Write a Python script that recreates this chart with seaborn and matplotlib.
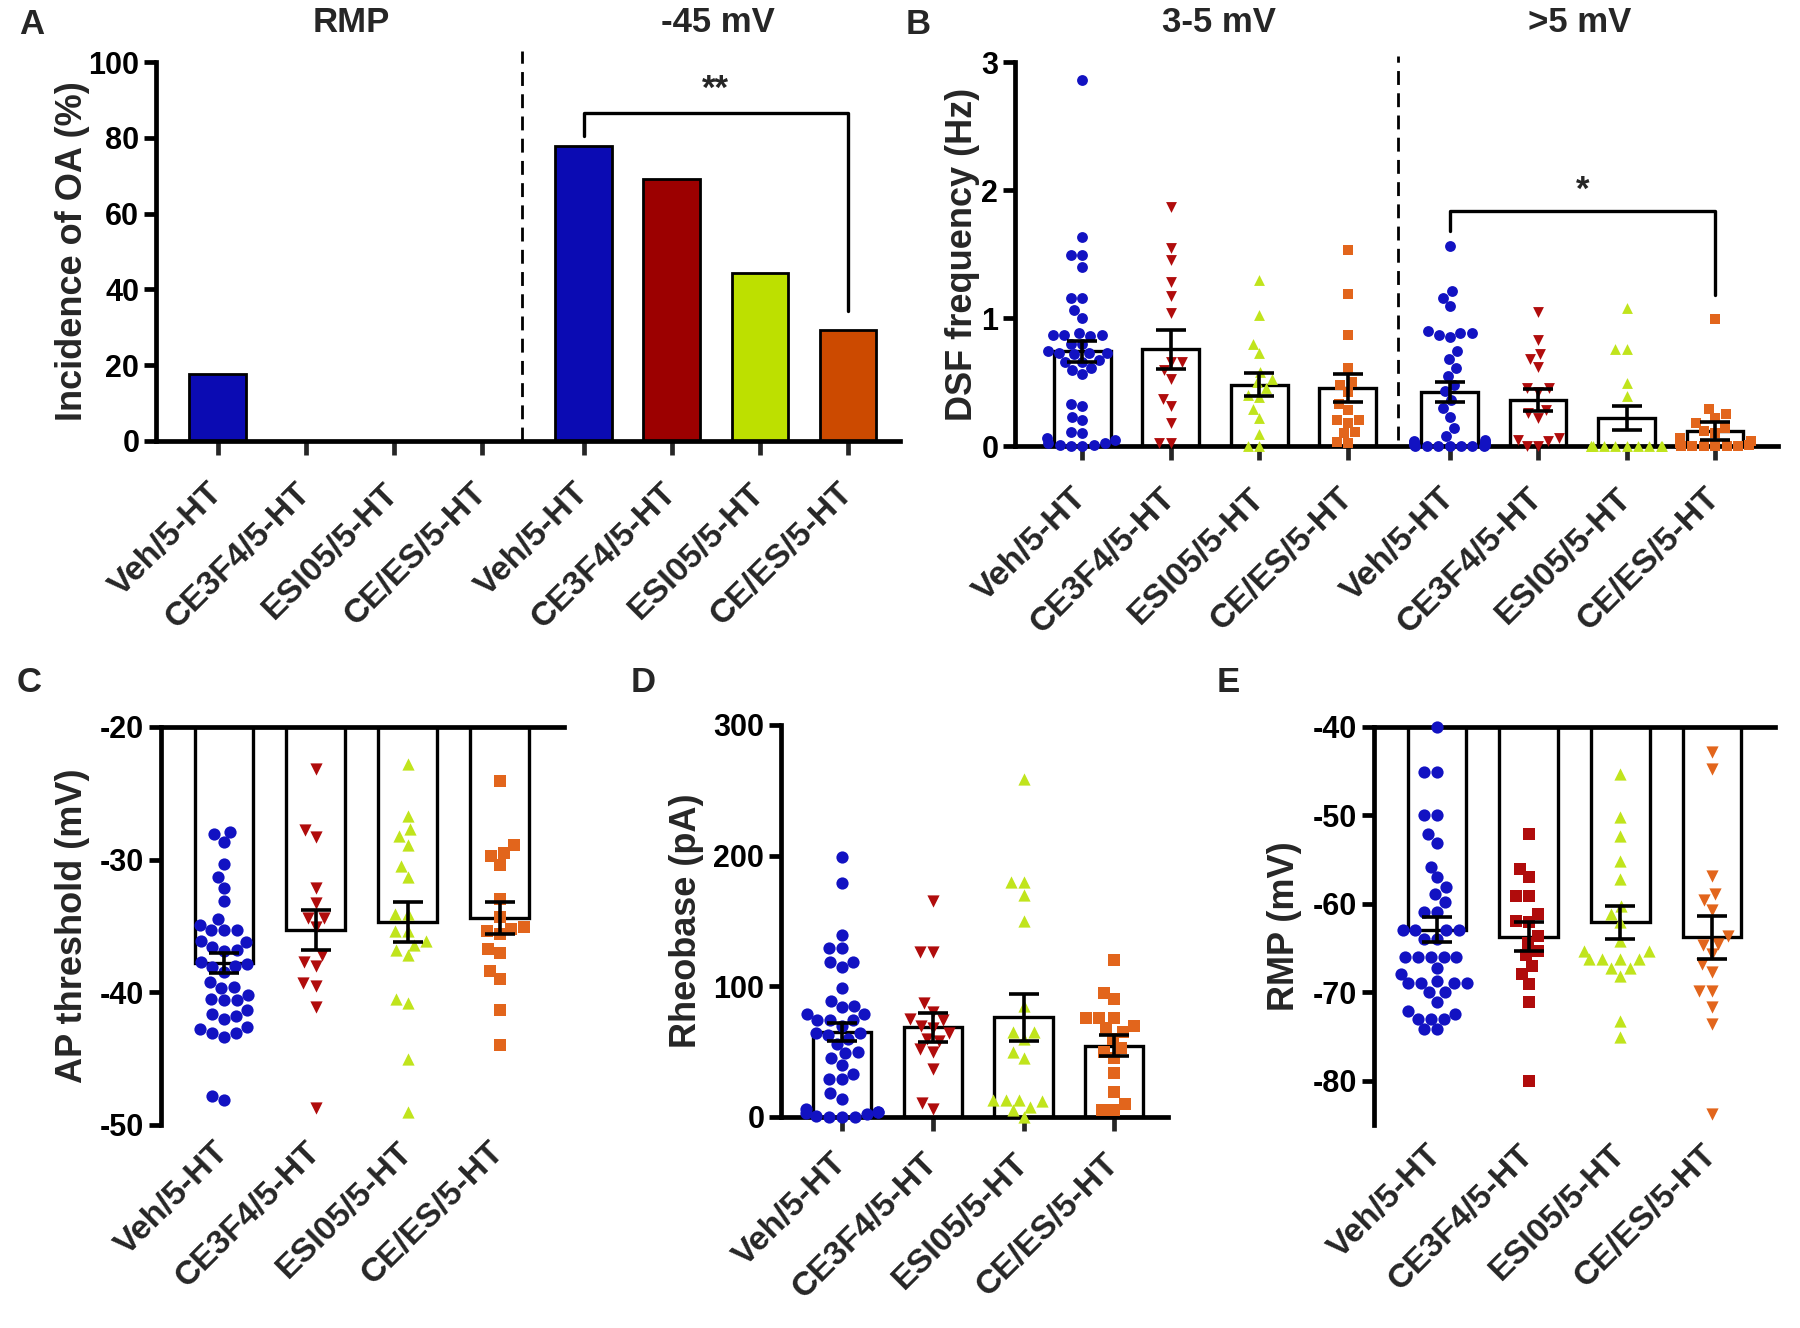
import matplotlib
matplotlib.use("Agg")
import numpy as np
import pandas as pd
import matplotlib.pyplot as plt
import seaborn as sns

sns.set_style("ticks")
plt.rcParams["font.family"] = ["Liberation Sans", "DejaVu Sans"]
plt.rcParams["font.weight"] = "bold"
plt.rcParams["axes.labelweight"] = "bold"
plt.rcParams["axes.unicode_minus"] = False

# ---------------- data ----------------
groups = ["Veh/5-HT", "CE3F4/5-HT", "ESI05/5-HT", "CE/ES/5-HT"]
bar_colors = ["#0b0bb3", "#9c0000", "#bde000", "#cc4a00"]
dot_colors = ["#1212c2", "#b00c0c", "#c0e41c", "#e2651c"]

# Panel A: incidence of OA (%)
a_rmp = [17.6, 0, 0, 0]
a_m45 = [77.8, 69.2, 44.4, 29.4]

# Panel B: DSF frequency (Hz)
b_means = [0.74, 0.755, 0.48, 0.45, 0.42, 0.36, 0.22, 0.12]
b_sems = [0.08, 0.15, 0.09, 0.11, 0.08, 0.085, 0.095, 0.07]
b35_veh = [2.86, 1.63, 1.49, 1.49, 1.40, 1.16, 1.16, 1.06, 1.00, 0.87, 0.87, 0.87, 0.88,
           0.86, 0.80, 0.80, 0.73, 0.73, 0.74, 0.72, 0.73, 0.67, 0.66, 0.66, 0.61, 0.59,
           0.56, 0.33, 0.31, 0.23, 0.20, 0.10, 0.11, 0.06, 0.05, 0.02, 0.01, 0.0, 0.02,
           0.0, 0.01]
b35_ce3f4 = [1.87, 1.55, 1.45, 1.28, 1.17, 1.04, 0.66, 0.66, 0.59, 0.52, 0.37, 0.31, 0.18,
             0.02, 0.02]
b35_esi = [1.30, 1.02, 0.80, 0.73, 0.58, 0.52, 0.50, 0.45, 0.40, 0.38, 0.29, 0.22, 0.09,
           0.0, 0.0]
b35_cees = [1.53, 1.19, 0.87, 0.61, 0.50, 0.48, 0.42, 0.33, 0.28, 0.20, 0.20, 0.18, 0.11,
            0.10, 0.03, 0.02]
b5_veh = [1.56, 1.21, 1.16, 1.09, 0.90, 0.88, 0.88, 0.87, 0.85, 0.74, 0.68, 0.61, 0.55,
          0.48, 0.43, 0.36, 0.30, 0.23, 0.14, 0.08, 0.05, 0.04, 0.03, 0.03, 0.02, 0.02,
          0.01, 0.01, 0.0, 0.0, 0.0, 0.0, 0.0, 0.0, 0.0]
b5_ce3f4 = [1.05, 0.83, 0.72, 0.68, 0.62, 0.45, 0.45, 0.42, 0.28, 0.26, 0.22, 0.06, 0.05,
            0.04, 0.0, 0.0]
b5_esi = [1.08, 0.76, 0.76, 0.49, 0.39, 0.0, 0.0, 0.0, 0.0, 0.0, 0.0, 0.0, 0.0, 0.0, 0.0]
b5_cees = [0.99, 0.29, 0.25, 0.22, 0.18, 0.14, 0.12, 0.10, 0.06, 0.04, 0.02, 0.01, 0.0,
           0.0, 0.0, 0.0, 0.0, 0.0]

# Panel C: AP threshold (mV)
c_means = [-37.8, -35.3, -34.7, -34.4]
c_sems = [0.75, 1.5, 1.5, 1.2]
c_veh = [-27.9, -28.1, -28.7, -30.3, -31.3, -32.1, -33.1, -34.5, -35.3, -35.3, -35.3, -34.9,
         -36.1, -36.2, -36.8, -36.6, -36.9, -37.9, -37.7, -38.0, -38.1, -38.5, -39.2, -39.6,
         -39.7, -40.2, -40.5, -40.6, -40.6, -41.3, -41.6, -41.8, -42.0, -43.1, -42.6, -43.4,
         -42.8, -43.1, -48.1, -47.8]
c_ce3f4 = [-23.2, -28.3, -27.8, -32.1, -33.3, -34.4, -34.4, -35.1, -37.2, -38.0, -37.7,
           -39.5, -39.3, -41.1, -48.7]
c_esi = [-22.8, -26.7, -27.7, -28.2, -28.9, -30.5, -31.3, -34.1, -34.1, -35.4, -35.4, -36.4,
         -36.1, -36.8, -37.2, -40.8, -40.5, -45.0, -49.0]
c_cees = [-24.1, -29.5, -30.4, -29.7, -28.9, -33.0, -34.3, -35.6, -35.2, -35.1, -35.4, -37.0,
          -36.7, -38.4, -39.0, -41.3, -44.0]

# Panel D: Rheobase (pA)
d_means = [65.0, 68.5, 76.4, 54.7]
d_sems = [7.0, 11.0, 18.0, 8.0]
d_veh = [199, 179, 139, 129, 129, 119, 115, 119, 99, 89, 84, 85, 79, 79, 74, 74, 74, 70, 64,
         63, 64, 60, 56, 50, 49, 45, 40, 33, 29, 29, 18, 14, 6, 4, 4, 3, 2, 1, 0, 0, 0]
d_ce3f4 = [165, 126, 126, 87, 80, 75, 74, 70, 68, 64, 60, 58, 52, 50, 37, 11, 6]
d_esi = [259, 180, 180, 170, 150, 85, 65, 65, 60, 50, 45, 13, 13, 13, 12, 8, 5, 0]
d_cees = [120, 95, 90, 76, 76, 76, 70, 68, 65, 60, 53, 50, 45, 34, 19, 10, 5, 5]

# Panel E: RMP (mV)
e_means = [-62.9, -63.7, -62.1, -63.8]
e_sems = [1.4, 1.65, 1.85, 2.4]
e_veh = [-40, -45.1, -45.1, -50, -50, -52.1, -53.1, -55.8, -57.0, -58.1, -58.9, -59.8, -60.9,
         -60.9, -63, -63, -63, -63, -64, -64, -66, -66, -66, -66, -66, -67.2, -67.9, -69,
         -69, -69, -69, -68.7, -70, -70, -71.1, -72.5, -72.1, -73, -73, -73, -74.2, -74.2]
e_ce3f4 = [-52.1, -56.0, -57.0, -59.1, -59.1, -61.1, -62.1, -61.9, -63.6, -64.4, -65.8,
           -65.3, -67.9, -67.0, -69.1, -71.1, -80.0]
e_esi = [-45.3, -50.2, -52.3, -55.1, -57.2, -60.2, -61.1, -62.1, -64.2, -65.3, -65.3, -66.2,
         -66.2, -66.2, -66.2, -67.2, -67.2, -68.1, -73.2, -75.1]
e_cees = [-42.8, -44.7, -56.8, -58.9, -59.6, -60.7, -63.6, -64.5, -64.7, -65.7, -66.8, -67.7,
          -69.8, -69.8, -71.7, -73.6, -83.8]

# ---------------- layout ----------------
W, H = 1800, 1328
fig = plt.figure(figsize=(W / 100, H / 100), dpi=100)


def px_axes(l, r, t, b):
    return fig.add_axes([l / W, (H - b) / H, (r - l) / W, (b - t) / H])


SPW = 3.4
TICK_FS = 22
XT_FS = 24.5
LAB_FS = 26


def style_axes(ax, top_axis=False):
    for s in ax.spines.values():
        s.set_linewidth(SPW)
        s.set_color("black")
    ax.spines["right"].set_visible(False)
    if top_axis:
        ax.spines["bottom"].set_visible(False)
    else:
        ax.spines["top"].set_visible(False)
    ax.tick_params(axis="y", length=9, width=SPW, labelsize=TICK_FS, pad=3, colors="black")


def set_xlabels(ax, pos, labels, pad, ticklen):
    ax.set_xticks(pos)
    ax.set_xticklabels(labels, rotation=45, ha="right", va="center",
                       rotation_mode="anchor", fontsize=XT_FS, fontweight="bold")
    ax.tick_params(axis="x", length=ticklen, width=SPW, pad=pad, bottom=True, top=False,
                   labelbottom=True, labeltop=False)


def dots_bars_err(ax, pos, series, means, sems, markers, colors, size=8):
    sns.barplot(x=pos, y=means, native_scale=True, orient="x", color="white",
                edgecolor="black", linewidth=2.4, width=0.64, errorbar=None,
                saturation=1, ax=ax, zorder=1)
    for p, vals, mk, col in zip(pos, series, markers, colors):
        sns.swarmplot(x=[p] * len(vals), y=vals, native_scale=True, orient="x",
                      color=col, marker=mk, size=size, linewidth=0, ax=ax, zorder=3,
                      clip_on=False, warn_thresh=1)
    ax.errorbar(pos, means, yerr=sems, fmt="none", ecolor="black", elinewidth=2.6,
                capsize=11, capthick=2.6, zorder=5)


def ylabel(ax, text, x_px, ax_left, ax_w):
    ax.set_ylabel(text, fontsize=LAB_FS, fontweight="bold", va="center")
    ax.yaxis.set_label_coords((x_px - ax_left) / ax_w, 0.5)


pos8 = [0, 1, 2, 3, 4.15, 5.15, 6.15, 7.15]
pos4 = [0, 1, 2, 3]

# ---------------- Panel A ----------------
axA = px_axes(156, 900, 62, 441)
dfA = pd.DataFrame({"pos": pos8, "val": a_rmp + a_m45, "grp": groups * 2})
sns.barplot(data=dfA, x="pos", y="val", hue="grp", palette=dict(zip(groups, bar_colors)),
            native_scale=True, dodge=False, width=0.64, edgecolor="black", linewidth=2,
            saturation=1, legend=False, errorbar=None, ax=axA)
axA.set_xlim(-0.70, 7.74)
axA.set_ylim(0, 100)
axA.set_yticks([0, 20, 40, 60, 80, 100])
style_axes(axA)
set_xlabels(axA, pos8, groups * 2, pad=24, ticklen=10)
axA.set_xlabel("")
ylabel(axA, "Incidence of OA (%)", 73, 156, 744)
axA.plot([3.45, 3.45], [0, 103], ls=(0, (5, 3)), lw=2.0, color="black", clip_on=False)
axA.plot([4.15, 4.15, 7.15, 7.15], [80.6, 86.5, 86.5, 34.4], color="black", lw=2.4,
         clip_on=False)
axA.text(5.65, 88.5, "**", ha="center", va="bottom", fontsize=25, fontweight="bold")

# ---------------- Panel B ----------------
axB = px_axes(1015, 1778, 62, 446)
dots_bars_err(axB, pos8,
              [b35_veh, b35_ce3f4, b35_esi, b35_cees, b5_veh, b5_ce3f4, b5_esi, b5_cees],
              b_means, b_sems, ["o", "v", "^", "s"] * 2, dot_colors * 2, size=7.8)
axB.set_xlim(-0.76, 7.86)
axB.set_ylim(0, 3)
axB.set_yticks([0, 1, 2, 3])
style_axes(axB)
set_xlabels(axB, pos8, groups * 2, pad=24, ticklen=10)
axB.set_xlabel("")
ylabel(axB, "DSF frequency (Hz)", 963, 1015, 763)
axB.plot([3.57, 3.57], [0.05, 3.05], ls=(0, (5, 3)), lw=2.0, color="black", clip_on=False)
axB.plot([4.15, 4.15, 7.15, 7.15], [1.68, 1.836, 1.836, 1.18], color="black", lw=2.4,
         clip_on=False)
axB.text(5.65, 1.87, "*", ha="center", va="bottom", fontsize=25, fontweight="bold")

# ---------------- Panel C ----------------
axC = px_axes(161, 564, 727, 1125)
dots_bars_err(axC, pos4, [c_veh, c_ce3f4, c_esi, c_cees], c_means, c_sems,
              ["o", "v", "^", "s"], dot_colors, size=8.8)
axC.set_xlim(-0.685, 3.70)
axC.set_ylim(-50, -20)
axC.set_yticks([-50, -40, -30, -20])
style_axes(axC, top_axis=True)
set_xlabels(axC, pos4, groups, pad=16, ticklen=0)
axC.set_xlabel("")
ylabel(axC, "AP threshold (mV)", 73, 161, 403)

# ---------------- Panel D ----------------
axD = px_axes(781, 1168, 725, 1117)
dots_bars_err(axD, pos4, [d_veh, d_ce3f4, d_esi, d_cees], d_means, d_sems,
              ["o", "v", "^", "s"], dot_colors, size=8.8)
axD.set_xlim(-0.67, 3.59)
axD.set_ylim(0, 300)
axD.set_yticks([0, 100, 200, 300])
style_axes(axD)
set_xlabels(axD, pos4, groups, pad=20, ticklen=10)
axD.set_xlabel("")
ylabel(axD, "Rheobase (pA)", 686, 781, 387)

# ---------------- Panel E ----------------
axE = px_axes(1374, 1775, 727, 1125)
dots_bars_err(axE, pos4, [e_veh, e_ce3f4, e_esi, e_cees], e_means, e_sems,
              ["o", "s", "^", "v"], dot_colors, size=8.8)
axE.set_xlim(-0.69, 3.69)
axE.set_ylim(-85, -40)
axE.set_yticks([-80, -70, -60, -50, -40])
style_axes(axE, top_axis=True)
set_xlabels(axE, pos4, groups, pad=18, ticklen=0)
axE.set_xlabel("")
ylabel(axE, "RMP (mV)", 1284, 1374, 401)

# ---------------- headers & panel letters ----------------
def ftext(x, y, s, fs, ha="center"):
    fig.text(x / W, 1 - y / H, s, ha=ha, va="center", fontsize=fs, fontweight="bold")

ftext(351, 23, "RMP", 25)
ftext(718, 23, "-45 mV", 25)
ftext(1219, 23, "3-5 mV", 25)
ftext(1580, 23, ">5 mV", 25)
for lx, ly, letter in [(32, 25, "A"), (918, 24, "B"), (29, 683, "C"), (643, 683, "D"),
                       (1228, 683, "E")]:
    ftext(lx, ly, letter, 25)

fig.savefig("out.png", dpi=100, facecolor="white")
